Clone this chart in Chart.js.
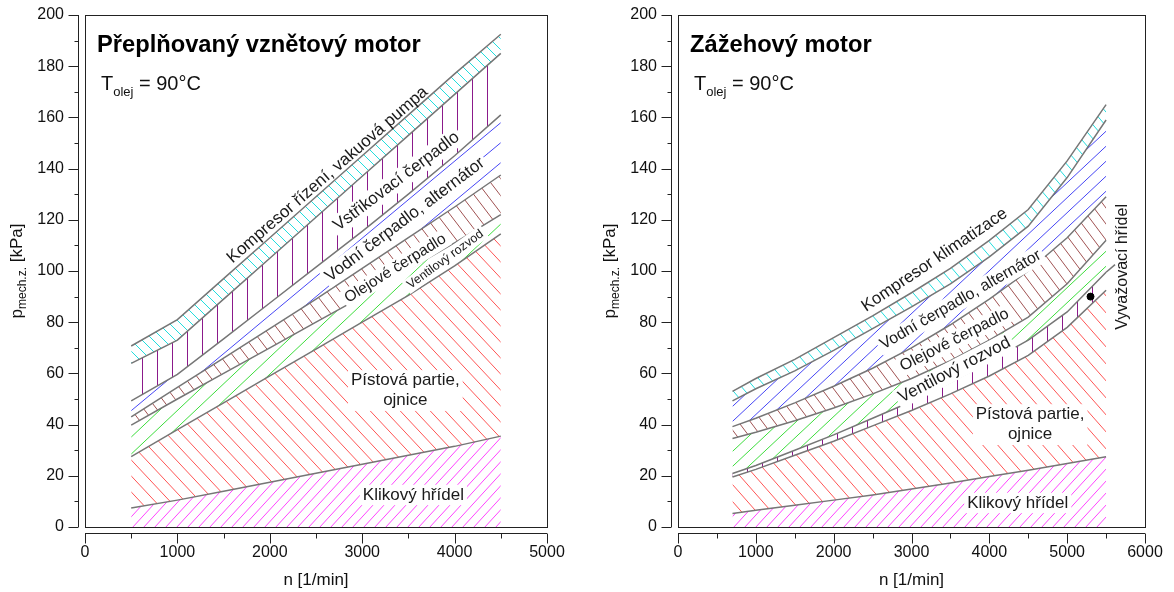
<!DOCTYPE html>
<html>
<head>
<meta charset="utf-8">
<script src="https://cdn.jsdelivr.net/npm/chart.js@4.4.1/dist/chart.umd.min.js"></script>
<style>
body { margin: 0; background: #fff; width: 1174px; height: 592px; overflow: hidden; position: relative; }
canvas { position: absolute; top: 0; }
#diesel { left: 0; }
#petrol { left: 590px; }
</style>
</head>
<body>
<canvas id="diesel" width="590" height="592"></canvas>
<canvas id="petrol" width="584" height="592"></canvas>
<script>
// --- data (cumulative band tops, kPa) ---
const dieselRpm = [500, 1000, 1500, 2000, 2500, 3000, 3500, 4000, 4500];
const dieselKlikovy = [7.4, 10.5, 14, 17.5, 21, 24.5, 28, 31.5, 35.5];
const dieselPistova = [27.5, 38, 48.5, 59, 69.5, 80, 90.5, 102, 114.5];
const dieselVentilovy = [39.8, 50, 60, 70, 80, 90, 100.5, 111, 122];
const dieselOlejove = [43, 54.5, 66, 77.5, 89, 101, 113, 125, 137.5];
const dieselVodni = [49.3, 59.6, 73.5, 87.5, 101.5, 115.5, 130, 145, 161];
const dieselVstrikovaci = [63.9, 73, 89, 105, 121, 137, 153, 169, 185];
const dieselKompresor = [70.7, 81, 97, 113, 129, 145, 161, 177, 192.5];

const petrolRpm = [700, 1000, 1500, 2000, 2500, 3000, 3500, 4000, 4500, 5000, 5500];
const petrolKlikovy = [5.3, 6.5, 8.5, 10.5, 12.5, 14.8, 17.2, 19.7, 22.2, 24.8, 27.4];
const petrolPistova = [19.5, 22.5, 28, 33.5, 39.5, 45.5, 52, 59, 67, 78, 92.5];
const petrolVyvazovaci = [20.9, 24, 30, 36, 42.5, 49, 56.5, 64.5, 73, 84, 99.5];
const petrolVentilovy = [34.6, 37, 41.5, 46.5, 52, 58, 65, 73, 82, 95, 112];
const petrolOlejove = [39.2, 42.5, 48.5, 55, 62, 70, 79, 89, 100, 113, 129];
const petrolVodni = [49.3, 54, 61, 69, 77.5, 86, 95, 105.5, 117.5, 136.5, 159];
const petrolKompresor = [53, 58, 65.5, 74, 82.5, 91.5, 101, 112, 124, 143, 165];
const petrolMarkerRpm = [5300];
const petrolMarkerValue = [90];
const petrolLeaderRpm = [5500, 5615];
const petrolLeaderValue = [99.5, 102.5];

const yTicks = [0, 20, 40, 60, 80, 100, 120, 140, 160, 180, 200];
const dieselXTicks = [0, 1000, 2000, 3000, 4000, 5000];
const petrolXTicks = [0, 1000, 2000, 3000, 4000, 5000, 6000];

const FONT = '"Liberation Sans", Arial, Helvetica, sans-serif';
const EDGE = '#767676';
Chart.defaults.font.family = FONT;
Chart.defaults.color = '#111';

function hatch(color, w, h, kind) {
    const c = document.createElement('canvas');
    c.width = w; c.height = h;
    const g = c.getContext('2d');
    g.strokeStyle = color;
    g.lineWidth = 1;
    g.beginPath();
    if (kind === '|') {
        g.moveTo(Math.floor(w / 2) + 0.5, 0);
        g.lineTo(Math.floor(w / 2) + 0.5, h);
    } else {
        for (let k = -1; k <= 1; k++) {
            if (kind === '/') { g.moveTo(k * w - w, 2 * h); g.lineTo(k * w + 2 * w, -h); }
            else { g.moveTo(k * w - w, -h); g.lineTo(k * w + 2 * w, 2 * h); }
        }
    }
    g.stroke();
    return g.createPattern(c, 'repeat');
}

function points(xs, ys) {
    return xs.map((x, i) => ({ x: x, y: ys[i] }));
}

// stacked bands: each one fills down to the band before it
function bands(list, offset) {
    return list.map((b, i) => ({
        label: b[0], data: points(b[1], b[2]),
        fill: i === 0 ? 'origin' : offset + i - 1,
        backgroundColor: b[3], borderColor: EDGE, borderWidth: 1.5,
        pointRadius: 0, tension: 0
    }));
}

const decor = {
    id: 'decor',
    afterDatasetsDraw(chart, args, opts) {
        const ctx = chart.ctx, xs = chart.scales.x, ys = chart.scales.y;
        opts.labels.forEach(l => {
            ctx.save();
            ctx.translate(xs.getPixelForValue(l.x), ys.getPixelForValue(l.y));
            ctx.rotate(-l.angle * Math.PI / 180);
            ctx.font = l.size + 'px ' + FONT;
            ctx.textAlign = 'center';
            ctx.textBaseline = 'middle';
            const lines = l.text.split('\n');
            const lh = l.size * 1.2;
            if (l.box) {
                const w = Math.max(...lines.map(t => ctx.measureText(t).width));
                ctx.fillStyle = '#fff';
                ctx.fillRect(-w / 2 - 3, -lines.length * lh / 2, w + 6, lines.length * lh);
            }
            ctx.fillStyle = '#1a1a1a';
            lines.forEach((t, i) => ctx.fillText(t, 0, (i - (lines.length - 1) / 2) * lh));
            ctx.restore();
        });
    },
    afterDraw(chart, args, opts) {
        const ctx = chart.ctx, a = chart.chartArea, xs = chart.scales.x, ys = chart.scales.y;
        ctx.save();
        // plot frame
        ctx.strokeStyle = '#222';
        ctx.lineWidth = 1;
        ctx.strokeRect(Math.round(a.left) + 0.5, Math.round(a.top) + 0.5,
            Math.round(a.right - a.left), Math.round(a.bottom - a.top));
        // offset y axis with major/minor ticks
        ctx.beginPath();
        const ax = Math.round(a.left) - 6.5;
        ctx.moveTo(ax, ys.getPixelForValue(0));
        ctx.lineTo(ax, ys.getPixelForValue(200));
        for (let v = 0; v <= 200; v += 10) {
            const y = Math.round(ys.getPixelForValue(v)) + 0.5;
            ctx.moveTo(ax, y);
            ctx.lineTo(ax - (v % 20 ? 4 : 10), y);
        }
        // offset x axis
        const ay = Math.round(a.bottom) + 6.5;
        ctx.moveTo(xs.getPixelForValue(0), ay);
        ctx.lineTo(xs.getPixelForValue(xs.max), ay);
        for (let v = 0; v <= xs.max; v += 500) {
            const x = Math.round(xs.getPixelForValue(v)) + 0.5;
            ctx.moveTo(x, ay);
            ctx.lineTo(x, ay + (v % 1000 ? 5 : 10));
        }
        ctx.stroke();

        ctx.fillStyle = '#000';
        ctx.textAlign = 'left';
        ctx.textBaseline = 'alphabetic';
        ctx.font = 'bold 23.7px ' + FONT;
        ctx.fillText(opts.title, a.left + 12, 52);

        let tx = a.left + 16;
        ctx.fillStyle = '#111';
        ctx.font = '20px ' + FONT;
        ctx.fillText('T', tx, 90); tx += ctx.measureText('T').width;
        ctx.font = '13px ' + FONT;
        ctx.fillText('olej', tx, 96); tx += ctx.measureText('olej').width;
        ctx.font = '20px ' + FONT;
        ctx.fillText(' = 90\u00b0C', tx, 90);

        // x axis title
        ctx.textAlign = 'center';
        ctx.textBaseline = 'middle';
        ctx.font = '17px ' + FONT;
        ctx.fillText('n [1/min]', (xs.getPixelForValue(0) + xs.getPixelForValue(xs.max)) / 2, 580);

        // y axis title with subscript
        const parts = [['p', 17, 0], ['mech.z.', 12, 4], [' [kPa]', 17, 0]];
        ctx.translate(a.left - 63, (a.top + a.bottom) / 2);
        ctx.rotate(-Math.PI / 2);
        ctx.textAlign = 'left';
        ctx.textBaseline = 'alphabetic';
        let total = 0;
        parts.forEach(p => { ctx.font = p[1] + 'px ' + FONT; total += ctx.measureText(p[0]).width; });
        let px = -total / 2;
        parts.forEach(p => {
            ctx.font = p[1] + 'px ' + FONT;
            ctx.fillText(p[0], px, p[2]);
            px += ctx.measureText(p[0]).width;
        });
        ctx.restore();
    }
};

function buildChart(id, cfg) {
    return new Chart(document.getElementById(id), {
        type: 'line',
        data: { datasets: cfg.datasets },
        options: {
            responsive: false,
            animation: false,
            devicePixelRatio: 1,
            layout: { padding: { left: 0, right: cfg.padRight, top: 15, bottom: 0 } },
            plugins: { legend: { display: false }, tooltip: { enabled: false }, decor: cfg.decor },
            scales: {
                x: {
                    type: 'linear', min: 0, max: cfg.xMax,
                    grid: { display: false, drawTicks: true, tickLength: 16 },
                    border: { display: false },
                    ticks: { font: { size: 16 }, padding: 0, maxRotation: 0, autoSkip: false,
                        callback: v => String(v) },
                    afterBuildTicks: s => { s.ticks = cfg.xTicks.map(v => ({ value: v })); },
                    afterFit: s => { s.height = 65; }
                },
                y: {
                    min: 0, max: 200,
                    grid: { display: false, drawTicks: true, tickLength: 21 },
                    border: { display: false },
                    ticks: { font: { size: 16 }, padding: 0, callback: v => String(v) },
                    afterBuildTicks: s => { s.ticks = yTicks.map(v => ({ value: v })); },
                    afterFit: s => { s.width = cfg.yWidth; }
                }
            }
        },
        plugins: [decor]
    });
}

buildChart('diesel', {
    xMax: 5000, xTicks: dieselXTicks, yWidth: 85, padRight: 43,
    datasets: bands([
        ['Klikový hřídel', dieselRpm, dieselKlikovy, hatch('#ff44ff', 11, 12, '/')],
        ['Pístová partie, ojnice', dieselRpm, dieselPistova, hatch('#ff5555', 15, 16, '\\')],
        ['Ventilový rozvod', dieselRpm, dieselVentilovy, hatch('#3ddd3d', 18, 17, '/')],
        ['Olejové čerpadlo', dieselRpm, dieselOlejove, hatch('#a05252', 13, 17, '\\')],
        ['Vodní čerpadlo, alternátor', dieselRpm, dieselVodni, hatch('#4646f5', 24, 20, '/')],
        ['Vstřikovací čerpadlo', dieselRpm, dieselVstrikovaci, hatch('#8b1a8b', 15, 4, '|')],
        ['Kompresor řízení, vakuová pumpa', dieselRpm, dieselKompresor, hatch('#22dddd', 11, 11, '\\')]
    ], 0),
    decor: {
        title: 'Přeplňovaný vznětový motor',
        labels: [
            { text: 'Kompresor řízení, vakuová pumpa', x: 2625, y: 137.5, angle: 41, size: 17 },
            { text: 'Vstřikovací čerpadlo', x: 3371, y: 135, angle: 37, size: 17, box: true },
            { text: 'Vodní čerpadlo, alternátor', x: 3463, y: 120, angle: 37, size: 17, box: true },
            { text: 'Olejové čerpadlo', x: 3359, y: 101, angle: 32, size: 15.5, box: true },
            { text: 'Ventilový rozvod', x: 3900, y: 104.5, angle: 36, size: 12.5, box: true },
            { text: 'Pístová partie,\nojnice', x: 3467, y: 53.3, angle: 0, size: 17, box: true },
            { text: 'Klikový hřídel', x: 3554, y: 12.5, angle: 0, size: 17, box: true }
        ]
    }
});

buildChart('petrol', {
    xMax: 6000, xTicks: petrolXTicks, yWidth: 88, padRight: 29,
    datasets: [
        { label: 'marker', data: points(petrolMarkerRpm, petrolMarkerValue), showLine: false,
          pointRadius: 3.5, pointBackgroundColor: '#000', pointBorderColor: '#000',
          backgroundColor: 'rgba(0,0,0,0)', borderColor: '#000', fill: false },
        { label: 'leader', data: points(petrolLeaderRpm, petrolLeaderValue), borderColor: EDGE,
          borderWidth: 1.5, pointRadius: 0, backgroundColor: 'rgba(0,0,0,0)', fill: false }
    ].concat(bands([
        ['Klikový hřídel', petrolRpm, petrolKlikovy, hatch('#ff44ff', 11, 12, '/')],
        ['Pístová partie, ojnice', petrolRpm, petrolPistova, hatch('#ff5555', 15, 17, '\\')],
        ['Vyvažovací hřídel', petrolRpm, petrolVyvazovaci, hatch('#8b1a8b', 15, 4, '|')],
        ['Ventilový rozvod', petrolRpm, petrolVentilovy, hatch('#3ddd3d', 16, 15, '/')],
        ['Olejové čerpadlo', petrolRpm, petrolOlejove, hatch('#a05252', 12, 16, '\\')],
        ['Vodní čerpadlo, alternátor', petrolRpm, petrolVodni, hatch('#4646f5', 16, 15, '/')],
        ['Kompresor klimatizace', petrolRpm, petrolKompresor, hatch('#22dddd', 12, 14, '\\')]
    ], 2)),
    decor: {
        title: 'Zážehový motor',
        labels: [
            { text: 'Kompresor klimatizace', x: 3296, y: 104.3, angle: 34, size: 17 },
            { text: 'Vodní čerpadlo, alternátor', x: 3631, y: 88.7, angle: 30, size: 16, box: true },
            { text: 'Olejové čerpadlo', x: 3553, y: 73, angle: 27, size: 16, box: true },
            { text: 'Ventilový rozvod', x: 3553, y: 61.3, angle: 27.5, size: 17, box: true },
            { text: 'Pístová partie,\nojnice', x: 4524, y: 40, angle: 0, size: 17, box: true },
            { text: 'Klikový hřídel', x: 4365, y: 9.4, angle: 0, size: 17, box: true },
            { text: 'Vyvažovací hřídel', x: 5716, y: 101.6, angle: 90, size: 16 }
        ]
    }
});
</script>
</body>
</html>
